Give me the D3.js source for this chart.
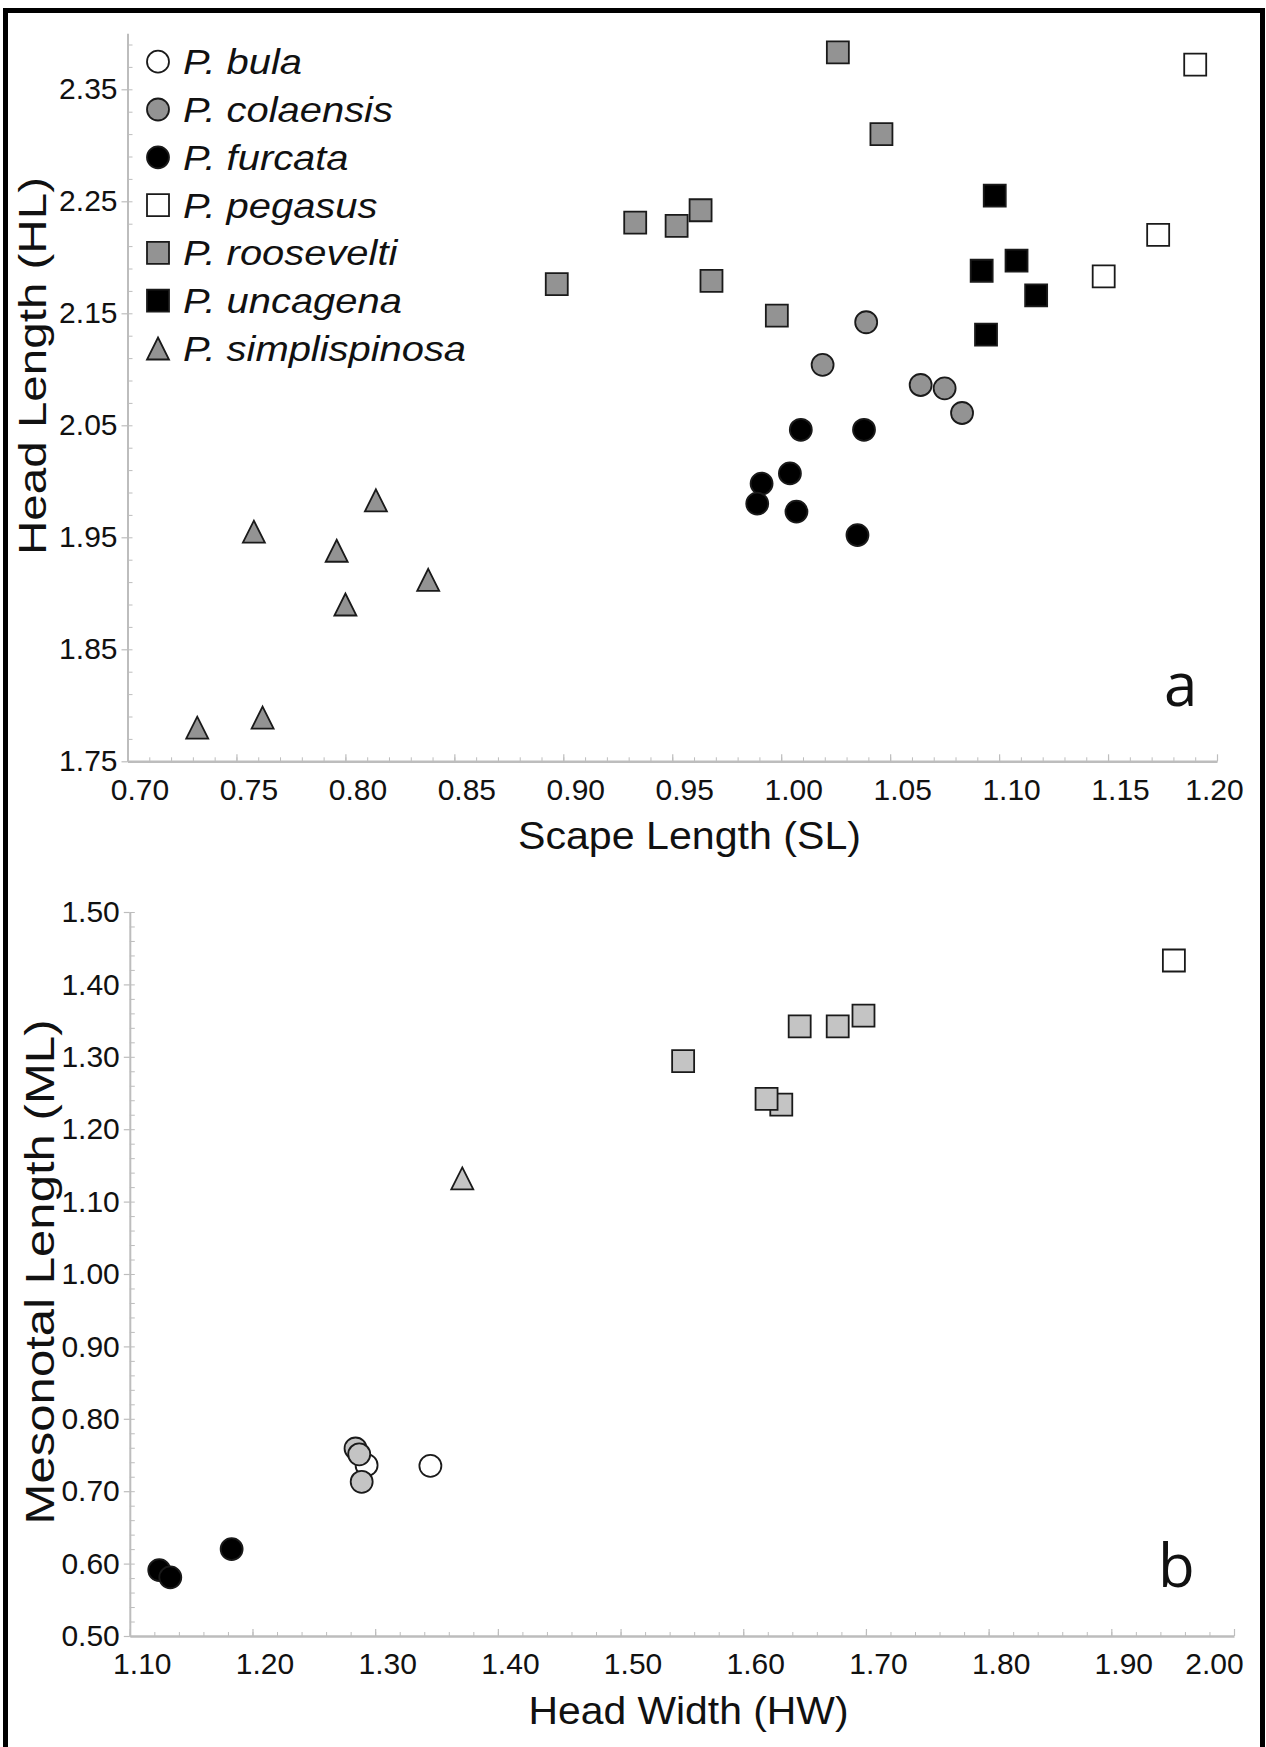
<!DOCTYPE html>
<html><head><meta charset="utf-8">
<script src="https://cdn.jsdelivr.net/npm/d3@7"></script>
<style>
html,body{margin:0;padding:0;background:#fff;}
svg{display:block;font-family:"Liberation Sans",Arial,sans-serif;}
</style></head><body>
<svg id="chart" width="1266" height="1747"></svg>
<script>
// ---------- categories ----------
const species = ["P. bula","P. colaensis","P. furcata","P. pegasus","P. roosevelti","P. uncagena","P. simplispinosa"];
const shapes  = ["circle","circle","circle","square","square","square","triangle"];
const fillsA  = ["#ffffff","#939393","#000000","#ffffff","#939393","#000000","#939393"];
const fillsB  = ["#ffffff","#c4c4c4","#000000","#ffffff","#c4c4c4","#000000","#c4c4c4"];

// ---------- panel a : Scape Length (SL) vs Head Length (HL) ----------
const aBulaSL = [];                     const aBulaHL = [];
const aColaensisSL = [1.039, 1.019, 1.064, 1.075, 1.083];
const aColaensisHL = [2.142, 2.104, 2.086, 2.083, 2.061];
const aFurcataSL = [1.009, 1.038, 0.991, 1.004, 0.989, 1.007, 1.035];
const aFurcataHL = [2.046, 2.046, 1.998, 2.007, 1.980, 1.973, 1.952];
const aPegasusSL = [1.190, 1.173, 1.148];
const aPegasusHL = [2.372, 2.220, 2.183];
const aRooseveltiSL = [1.026, 1.046, 0.933, 0.963, 0.952, 0.968, 0.998, 0.897];
const aRooseveltiHL = [2.383, 2.310, 2.231, 2.242, 2.228, 2.179, 2.148, 2.176];
const aUncagenaSL = [1.098, 1.092, 1.108, 1.117, 1.094];
const aUncagenaHL = [2.255, 2.188, 2.197, 2.166, 2.131];
const aSimplispinosaSL = [0.758, 0.814, 0.796, 0.838, 0.800, 0.732, 0.762];
const aSimplispinosaHL = [1.955, 1.983, 1.938, 1.912, 1.890, 1.780, 1.789];

// ---------- panel b : Head Width (HW) vs Mesonotal Length (ML) ----------
const bBulaHW = [1.293, 1.345];         const bBulaML = [0.736, 0.735];
const bColaensisHW = [1.284, 1.289, 1.287];
const bColaensisML = [0.759, 0.713, 0.751];
const bFurcataHW = [1.124, 1.133, 1.183];
const bFurcataML = [0.591, 0.581, 0.620];
const bPegasusHW = [1.951];             const bPegasusML = [1.433];
const bRooseveltiHW = [1.698, 1.677, 1.646, 1.551, 1.631, 1.619];
const bRooseveltiML = [1.357, 1.342, 1.342, 1.294, 1.234, 1.242];
const bUncagenaHW = [];                 const bUncagenaML = [];
const bSimplispinosaHW = [1.371];       const bSimplispinosaML = [1.132];

// ---------- tick labels ----------
const aXTicks = [0.70,0.75,0.80,0.85,0.90,0.95,1.00,1.05,1.10,1.15,1.20];
const aYTicks = [1.75,1.85,1.95,2.05,2.15,2.25,2.35];
const bXTicks = [1.10,1.20,1.30,1.40,1.50,1.60,1.70,1.80,1.90,2.00];
const bYTicks = [0.50,0.60,0.70,0.80,0.90,1.00,1.10,1.20,1.30,1.40,1.50];

const seriesA = [
  [aBulaSL,aBulaHL],[aColaensisSL,aColaensisHL],[aFurcataSL,aFurcataHL],
  [aPegasusSL,aPegasusHL],[aRooseveltiSL,aRooseveltiHL],[aUncagenaSL,aUncagenaHL],
  [aSimplispinosaSL,aSimplispinosaHL]
];
const seriesB = [
  [bBulaHW,bBulaML],[bColaensisHW,bColaensisML],[bFurcataHW,bFurcataML],
  [bPegasusHW,bPegasusML],[bRooseveltiHW,bRooseveltiML],[bUncagenaHW,bUncagenaML],
  [bSimplispinosaHW,bSimplispinosaML]
];

const svg = d3.select("#chart");
svg.append("rect").attr("width",1266).attr("height",1747).attr("fill","#fff");

const R = 11;
function markerPath(shape){
  if (shape === "circle") return d3.symbol(d3.symbolCircle, Math.PI*R*R)();
  if (shape === "square") return d3.symbol(d3.symbolSquare, (2*R)*(2*R))();
  return `M0,${-R}L${R},${R}L${-R},${R}Z`;
}

const fmt = d3.format(".2f");
const axisColor = "#bdbdbd";

function drawPanel(cfg){
  const g = svg.append("g");
  const x = d3.scaleLinear(cfg.xDomain, cfg.xRange);
  const y = d3.scaleLinear(cfg.yDomain, cfg.yRange);
  const x0 = cfg.xRange[0], y0 = cfg.yRange[0];

  g.append("g").attr("transform",`translate(0,${y0})`)
    .call(d3.axisBottom(x).tickValues(cfg.xMinor).tickSizeInner(-4).tickSizeOuter(0).tickFormat(""))
    .call(s=>{s.select(".domain").remove(); s.selectAll("line").attr("stroke",axisColor).attr("stroke-width",1);});
  const n = cfg.xTicks.length;
  g.append("g").attr("transform",`translate(0,${y0})`)
    .call(d3.axisBottom(x).tickValues(cfg.xTicks).tickSizeInner(-7).tickSizeOuter(0).tickPadding(17).tickFormat(fmt))
    .call(s=>{
      s.select(".domain").attr("stroke",axisColor).attr("stroke-width",2.5);
      s.selectAll("line").attr("stroke",axisColor).attr("stroke-width",1.2);
      s.selectAll("text").attr("font-size",30).attr("fill","#111")
        .attr("font-family","'Liberation Sans',Arial,sans-serif")
        .attr("dx",(d,i)=> i===n-1 ? cfg.lastDx : 12);
    });
  g.append("g").attr("transform",`translate(${x0},0)`)
    .call(d3.axisRight(y).tickValues(cfg.yMinor).tickSizeInner(5).tickSizeOuter(0).tickFormat(""))
    .call(s=>{s.select(".domain").remove(); s.selectAll("line").attr("stroke",axisColor).attr("stroke-width",1);});
  g.append("g").attr("transform",`translate(${x0},0)`)
    .call(d3.axisLeft(y).tickValues(cfg.yTicks).tickSizeInner(6).tickSizeOuter(0).tickPadding(4).tickFormat(fmt))
    .call(s=>{
      s.select(".domain").attr("stroke",axisColor).attr("stroke-width",2);
      s.selectAll("line").attr("stroke",axisColor).attr("stroke-width",1.2);
      s.selectAll("text").attr("font-size",30).attr("fill","#111")
        .attr("font-family","'Liberation Sans',Arial,sans-serif");
    });

  cfg.series.forEach((ser,si)=>{
    const pts = ser[0].map((v,i)=>({x:v,y:ser[1][i]}));
    g.append("g").selectAll("path").data(pts).join("path")
      .attr("d", markerPath(shapes[si]))
      .attr("transform", d=>`translate(${x(d.x)},${y(d.y)})`)
      .attr("fill", cfg.fills[si])
      .attr("stroke", "#1a1a1a")
      .attr("stroke-width", 1.8);
  });

  svg.append("text").attr("x",cfg.xTitlePos[0]).attr("y",cfg.xTitlePos[1])
    .attr("text-anchor","middle").attr("font-size",38).attr("fill","#111")
    .attr("textLength",cfg.xTitleLen).attr("lengthAdjust","spacingAndGlyphs")
    .text(cfg.xTitle);
  svg.append("text").attr("transform",`translate(${cfg.yTitlePos[0]},${cfg.yTitlePos[1]}) rotate(-90)`)
    .attr("text-anchor","middle").attr("font-size",cfg.yTitleSize).attr("fill","#111")
    .attr("textLength",cfg.yTitleLen).attr("lengthAdjust","spacingAndGlyphs")
    .text(cfg.yTitle);
  svg.append("text").attr("x",cfg.letterPos[0]).attr("y",cfg.letterPos[1])
    .attr("font-size",60).attr("fill","#111").attr("font-family","'Open Sans','Liberation Sans',sans-serif")
    .text(cfg.letter);
}

drawPanel({
  xDomain:[0.70,1.20], xRange:[127.5,1217],
  yDomain:[1.75,2.40], yRange:[761.3,33.3],
  xTicks:aXTicks, yTicks:aYTicks,
  xMinor:d3.range(0.70,1.2001,0.01), yMinor:d3.range(1.75,2.4001,0.02),
  lastDx:-3,
  series:seriesA, fills:fillsA,
  xTitle:"Scape Length (SL)", xTitlePos:[689.5,849], xTitleLen:343,
  yTitle:"Head Length (HL)", yTitlePos:[46,366], yTitleLen:378, yTitleSize:39,
  letter:"a", letterPos:[1164,706]
});

drawPanel({
  xDomain:[1.10,2.00], xRange:[129.8,1234],
  yDomain:[0.50,1.50], yRange:[1636,912],
  xTicks:bXTicks, yTicks:bYTicks,
  xMinor:d3.range(1.10,2.0001,0.02), yMinor:d3.range(0.50,1.5001,0.02),
  lastDx:-20,
  series:seriesB, fills:fillsB,
  xTitle:"Head Width (HW)", xTitlePos:[688.5,1724], xTitleLen:320,
  yTitle:"Mesonotal Length (ML)", yTitlePos:[54,1272], yTitleLen:505, yTitleSize:41,
  letter:"b", letterPos:[1158,1587]
});

// legend (panel a)
const legend = svg.append("g");
species.forEach((name,i)=>{
  const cy = 61.7 + i*47.8;
  legend.append("path").attr("d", markerPath(shapes[i]))
    .attr("transform",`translate(158,${cy})`)
    .attr("fill", fillsA[i]).attr("stroke","#1a1a1a").attr("stroke-width",1.8);
  legend.append("text")
    .attr("transform",`translate(183,${cy+12.5}) scale(1.14,1)`)
    .attr("font-size",35).attr("font-style","italic").attr("fill","#111")
    .text(name);
});

// outer frame (left, top, right)
svg.append("path").attr("d","M5.5,1747V10.5H1262.5V1747")
  .attr("fill","none").attr("stroke","#000").attr("stroke-width",5);
</script>
</body></html>
